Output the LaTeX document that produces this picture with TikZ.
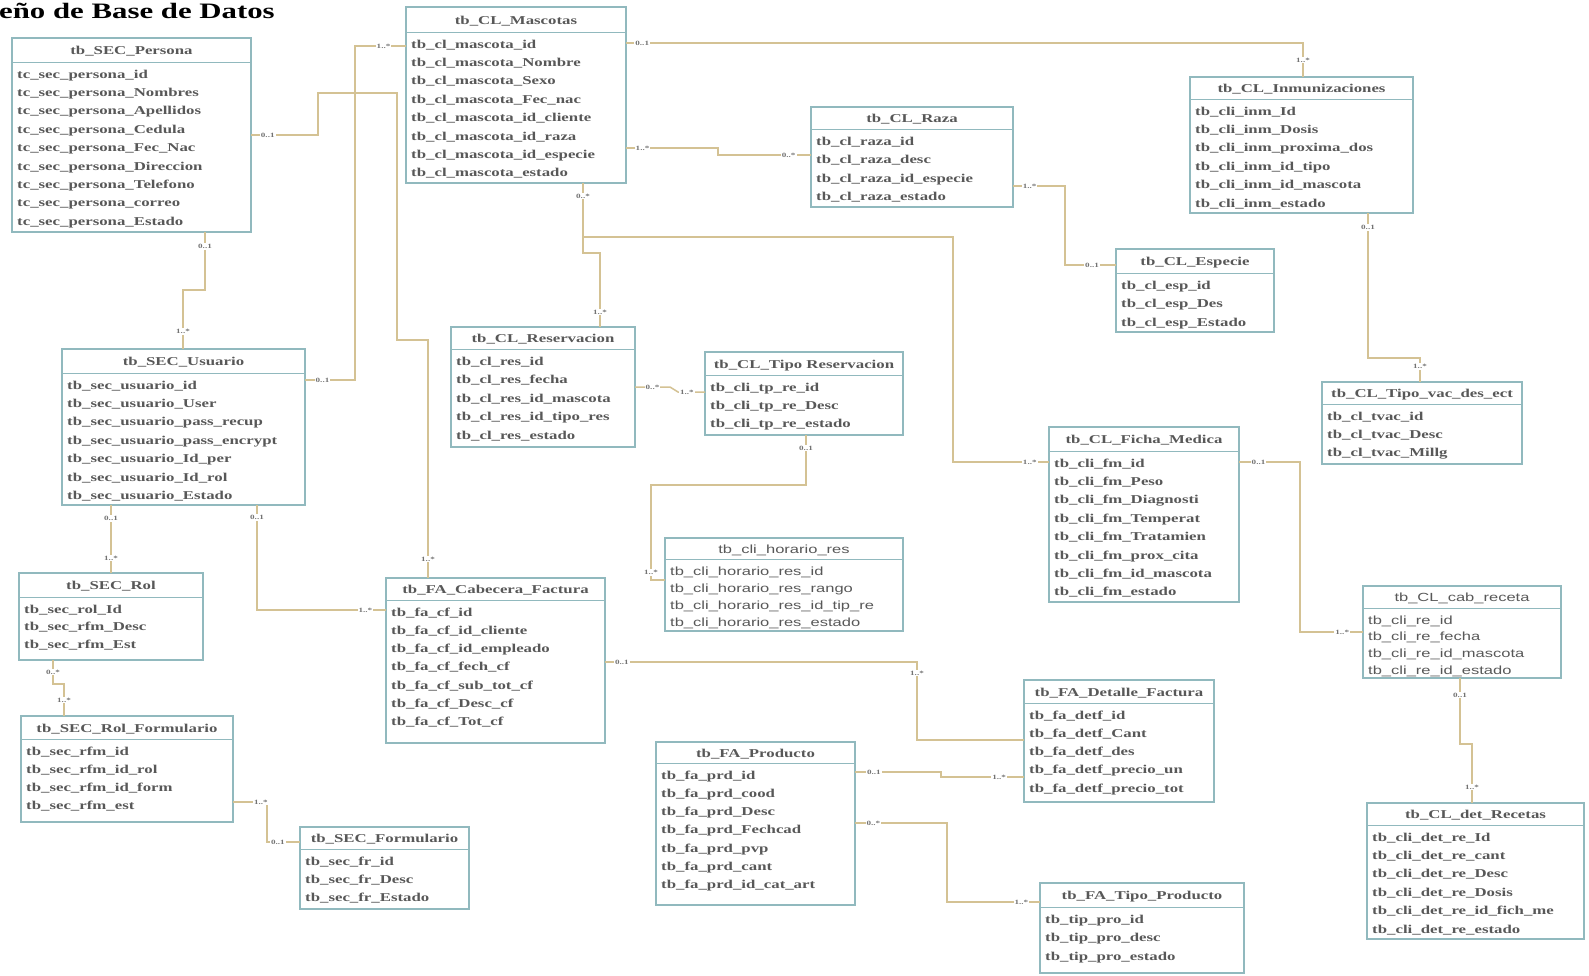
\documentclass[tikz,border=0pt]{standalone}
\usepackage{fontspec}
\setmainfont{Liberation Serif}[FakeStretch=1.4]
\newfontfamily\sansfila{Liberation Sans}[FakeStretch=1.4]
\definecolor{borde}{RGB}{145,185,190}
\definecolor{enlace}{RGB}{212,194,148}
\definecolor{texto}{RGB}{88,88,88}
\tikzset{
  caja/.style={draw=borde, line width=1.2pt, fill=white, inner sep=0pt, outer sep=0pt},
  linea/.style={draw=borde, line width=1pt},
  encab/.style={font=\bfseries\fontsize{12}{14}\selectfont, text=texto, inner sep=0pt, anchor=base},
  fila/.style={font=\bfseries\fontsize{12}{14}\selectfont, text=texto, inner sep=0pt, anchor=base west},
  titulo/.style={font=\bfseries\fontsize{22}{24}\selectfont, inner sep=0pt, anchor=base west},
  rel/.style={draw=enlace, line width=1.5pt},
  mult/.style={font=\bfseries\fontsize{6.5}{6.5}\selectfont, text=black!55, fill=white, inner sep=1pt},
}
\newcommand{\tabla}[9]{%
  \node[caja, anchor=north west, minimum width=#4-#2, minimum height=#5-#3] (#1) at (#2,#3) {};
  \draw[linea] (#2,#6) -- (#4,#6);
  \node[encab] (#1-t) at ({(#2+#4)/2},{(#3+#6)/2+4.5}) {#8};
  \foreach \campo [count=\i] in {#9}
    \node[fila] (#1-\i) at (#2+5,{#6+16+(\i-1)*#7}) {\campo};
}
\begin{document}
\catcode`\_=12
\begin{tikzpicture}[x=1pt,y=-1pt]
\fill[white] (0,0) rectangle (1589,975);
\useasboundingbox (0,0) rectangle (1589,975);
\node[titulo] (titulo) at (-1,18) {eño de Base de Datos};

\tabla{persona}{12}{38}{251}{232}{62}{18.4}{tb_SEC_Persona}{tc_sec_persona_id,tc_sec_persona_Nombres,tc_sec_persona_Apellidos,tc_sec_persona_Cedula,tc_sec_persona_Fec_Nac,tc_sec_persona_Direccion,tc_sec_persona_Telefono,tc_sec_persona_correo,tc_sec_persona_Estado}
\tabla{mascotas}{406}{7}{626}{183}{32}{18.4}{tb_CL_Mascotas}{tb_cl_mascota_id,tb_cl_mascota_Nombre,tb_cl_mascota_Sexo,tb_cl_mascota_Fec_nac,tb_cl_mascota_id_cliente,tb_cl_mascota_id_raza,tb_cl_mascota_id_especie,tb_cl_mascota_estado}
\tabla{raza}{811}{107}{1013}{207}{129}{18.6}{tb_CL_Raza}{tb_cl_raza_id,tb_cl_raza_desc,tb_cl_raza_id_especie,tb_cl_raza_estado}
\tabla{especie}{1116}{249}{1274}{332}{273}{18.5}{tb_CL_Especie}{tb_cl_esp_id,tb_cl_esp_Des,tb_cl_esp_Estado}
\tabla{inmuniz}{1190}{77}{1413}{213}{99}{18.4}{tb_CL_Inmunizaciones}{tb_cli_inm_Id,tb_cli_inm_Dosis,tb_cli_inm_proxima_dos,tb_cli_inm_id_tipo,tb_cli_inm_id_mascota,tb_cli_inm_estado}
\tabla{tipovac}{1322}{382}{1522}{464}{404}{18}{tb_CL_Tipo_vac_des_ect}{tb_cl_tvac_id,tb_cl_tvac_Desc,tb_cl_tvac_Millg}
\tabla{usuario}{62}{349}{305}{505}{373}{18.4}{tb_SEC_Usuario}{tb_sec_usuario_id,tb_sec_usuario_User,tb_sec_usuario_pass_recup,tb_sec_usuario_pass_encrypt,tb_sec_usuario_Id_per,tb_sec_usuario_Id_rol,tb_sec_usuario_Estado}
\tabla{rol}{19}{573}{203}{660}{597}{17.6}{tb_SEC_Rol}{tb_sec_rol_Id,tb_sec_rfm_Desc,tb_sec_rfm_Est}
\tabla{rolform}{21}{716}{233}{822}{739}{18.3}{tb_SEC_Rol_Formulario}{tb_sec_rfm_id,tb_sec_rfm_id_rol,tb_sec_rfm_id_form,tb_sec_rfm_est}
\tabla{formulario}{300}{827}{469}{909}{849}{18}{tb_SEC_Formulario}{tb_sec_fr_id,tb_sec_fr_Desc,tb_sec_fr_Estado}
\tabla{reservacion}{451}{327}{635}{447}{349}{18.5}{tb_CL_Reservacion}{tb_cl_res_id,tb_cl_res_fecha,tb_cl_res_id_mascota,tb_cl_res_id_tipo_res,tb_cl_res_estado}
\tabla{tiporeserv}{705}{352}{903}{435}{375}{18}{tb_CL_Tipo Reservacion}{tb_cli_tp_re_id,tb_cli_tp_re_Desc,tb_cli_tp_re_estado}
\tabla{ficha}{1049}{427}{1239}{602}{451}{18.4}{tb_CL_Ficha_Medica}{tb_cli_fm_id,tb_cli_fm_Peso,tb_cli_fm_Diagnosti,tb_cli_fm_Temperat,tb_cli_fm_Tratamien,tb_cli_fm_prox_cita,tb_cli_fm_id_mascota,tb_cli_fm_estado}
\tabla{detrecetas}{1367}{803}{1584}{939}{825}{18.4}{tb_CL_det_Recetas}{tb_cli_det_re_Id,tb_cli_det_re_cant,tb_cli_det_re_Desc,tb_cli_det_re_Dosis,tb_cli_det_re_id_fich_me,tb_cli_det_re_estado}
\tabla{cabecera}{386}{578}{605}{743}{600}{18.3}{tb_FA_Cabecera_Factura}{tb_fa_cf_id,tb_fa_cf_id_cliente,tb_fa_cf_id_empleado,tb_fa_cf_fech_cf,tb_fa_cf_sub_tot_cf,tb_fa_cf_Desc_cf,tb_fa_cf_Tot_cf}
\tabla{detalle}{1024}{680}{1214}{802}{703}{18.3}{tb_FA_Detalle_Factura}{tb_fa_detf_id,tb_fa_detf_Cant,tb_fa_detf_des,tb_fa_detf_precio_un,tb_fa_detf_precio_tot}
\tabla{producto}{656}{742}{855}{905}{763}{18.3}{tb_FA_Producto}{tb_fa_prd_id,tb_fa_prd_cood,tb_fa_prd_Desc,tb_fa_prd_Fechcad,tb_fa_prd_pvp,tb_fa_prd_cant,tb_fa_prd_id_cat_art}
\tabla{tipoproducto}{1040}{883}{1244}{973}{907}{18.5}{tb_FA_Tipo_Producto}{tb_tip_pro_id,tb_tip_pro_desc,tb_tip_pro_estado}
\begin{scope}[encab/.append style={font=\sansfila\fontsize{11.8}{14}\selectfont},
  fila/.append style={font=\sansfila\fontsize{11.8}{14}\selectfont}]
\tabla{horario}{665}{538}{903}{631}{559}{17.3}{tb_cli_horario_res}{tb_cli_horario_res_id,tb_cli_horario_res_rango,tb_cli_horario_res_id_tip_re,tb_cli_horario_res_estado}
\tabla{cabreceta}{1363}{586}{1561}{678}{608}{16.7}{tb_CL_cab_receta}{tb_cli_re_id,tb_cli_re_fecha,tb_cli_re_id_mascota,tb_cli_re_id_estado}
\end{scope}

\coordinate (bifur) at (583,237);
\draw[rel] (persona.south -| 205,0) -- node[mult,pos=0.25] (m1a) {0..1} (205,290) -| node[mult,pos=0.85] (m1b) {1..*} (usuario.north -| 183,0);
\draw[rel] (persona.east |- 0,135) -- node[mult,pos=0.25] (m2a) {0..1} (318,135) |- (397,93) |- (428,340) -- node[mult,pos=0.92] (m2b) {1..*} (cabecera.north -| 428,0);
\draw[rel] (usuario.east |- 0,380) -- node[mult,pos=0.35] (m3a) {0..1} (355,380) |- node[mult,pos=0.78] (m3b) {1..*} (mascotas.west |- 0,46);
\draw[rel] (usuario.south -| 111,0) -- node[mult,pos=0.2] (m4a) {0..1} node[mult,pos=0.78] (m4b) {1..*} (rol.north -| 111,0);
\draw[rel] (usuario.south -| 257,0) |- node[mult,pos=0.06] (m5a) {0..1} node[mult,pos=0.92] (m5b) {1..*} (cabecera.west |- 0,610);
\draw[rel] (rol.south -| 53,0) -- node[mult,pos=0.5] (m6a) {0..*} (53,684) -| node[mult,pos=0.75] (m6b) {1..*} (rolform.north -| 64,0);
\draw[rel] (rolform.east |- 0,802) -| node[mult,pos=0.41] (m7a) {1..*} (267,842) -- node[mult,pos=0.33] (m7b) {0..1} (formulario.west |- 0,842);
\draw[rel] (mascotas.east |- 0,43) -| node[mult,pos=0.012] (m8a) {0..1} node[mult,pos=0.75] (m8b) {1..*} (inmuniz.north -| 1303,0);
\draw[rel] (mascotas.east |- 0,148) -- node[mult,pos=0.18] (m9a) {1..*} (718,148) |- node[mult,pos=0.88] (m9b) {0..*} (raza.west |- 0,155);
\draw[rel] (raza.east |- 0,186) -| node[mult,pos=0.16] (m10a) {1..*} (1065,265) -- node[mult,pos=0.53] (m10b) {0..1} (especie.west |- 0,265);
\draw[rel] (inmuniz.south -| 1368,0) |- node[mult,pos=0.05] (m11a) {0..1} (1420,358) -- node[mult,pos=0.35] (m11b) {1..*} (tipovac.north -| 1420,0);
\draw[rel] (mascotas.south -| 583,0) -- node[mult,pos=0.24] (m12a) {0..*} (bifur) -| (953,462) -- node[mult,pos=0.8] (m12b) {1..*} (ficha.west |- 0,462);
\draw[rel] (bifur) |- (600,253) -- node[mult,pos=0.8] (m13b) {1..*} (reservacion.north -| 600,0);
\draw[rel] (reservacion.east |- 0,387) -- node[mult,pos=0.5] (m14a) {0..*} (670,387) -- (678,392) -- node[mult,pos=0.33] (m14b) {1..*} (tiporeserv.west |- 0,392);
\draw[rel] (tiporeserv.south -| 806,0) -- node[mult,pos=0.26] (m15a) {0..1} (806,485) -| node[mult,pos=0.96] (m15b) {1..*} (651,580) -- (horario.west |- 0,580);
\draw[rel] (ficha.east |- 0,462) -| node[mult,pos=0.16] (m16a) {0..1} (1300,632) -- node[mult,pos=0.67] (m16b) {1..*} (cabreceta.west |- 0,632);
\draw[rel] (cabreceta.south -| 1460,0) |- node[mult,pos=0.13] (m17a) {0..1} (1472,744) -- node[mult,pos=0.73] (m17b) {1..*} (detrecetas.north -| 1472,0);
\draw[rel] (cabecera.east |- 0,662) -| node[mult,pos=0.027] (m18a) {0..1} node[mult,pos=0.57] (m18b) {1..*} (917,740) -- (detalle.west |- 0,740);
\draw[rel] (producto.east |- 0,772) -- node[mult,pos=0.22] (m19a) {0..1} (941,772) |- node[mult,pos=0.85] (m19b) {1..*} (detalle.west |- 0,777);
\draw[rel] (producto.east |- 0,823) -| node[mult,pos=0.1] (m20a) {0..*} (947,902) -- node[mult,pos=0.8] (m20b) {1..*} (tipoproducto.west |- 0,902);
\end{tikzpicture}
\end{document}
